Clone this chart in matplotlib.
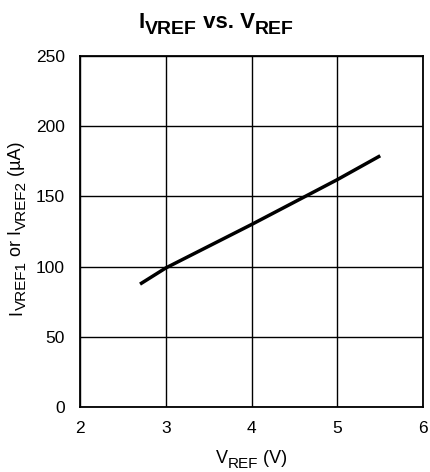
import matplotlib
matplotlib.use("Agg")
import matplotlib.pyplot as plt
from matplotlib.transforms import IdentityTransform

plt.rcParams['font.family'] = ['Liberation Sans', 'DejaVu Sans']

# I_VREF vs V_REF data
vref = [2.7, 3.0, 4.0, 5.0, 5.5]
iref = [87.5, 99, 130, 162, 179]

x_ticks = [2, 3, 4, 5, 6]
y_ticks = [0, 50, 100, 150, 200, 250]


def text_width(fig, r, s, size, weight):
    # measure with padding chars so leading/trailing spaces count
    t1 = fig.text(0, 0, 'x' + s + 'x', fontsize=size, fontweight=weight)
    t2 = fig.text(0, 0, 'xx', fontsize=size, fontweight=weight)
    w = t1.get_window_extent(r).width - t2.get_window_extent(r).width
    t1.remove()
    t2.remove()
    return w


def rich_text(fig, parts, center, base, vertical=False, weight='normal'):
    # parts: (text, fontsize, drop in px)
    r = fig.canvas.get_renderer()
    widths = [text_width(fig, r, s, size, weight) for s, size, drop in parts]
    pos = center - sum(widths) / 2
    for (s, size, drop), w in zip(parts, widths):
        if vertical:
            fig.text(base + drop, pos, s, fontsize=size, fontweight=weight,
                     rotation=90, rotation_mode='anchor', ha='left', va='baseline',
                     transform=IdentityTransform())
        else:
            fig.text(pos, base - drop, s, fontsize=size, fontweight=weight,
                     ha='left', va='baseline', transform=IdentityTransform())
        pos += w


fig = plt.figure(figsize=(4.3, 4.72), dpi=100)
ax = fig.add_axes([0.186, 0.138, 0.798, 0.743])

ax.plot(vref, iref, color='black', linewidth=2.5, solid_capstyle='butt')

ax.set_xlim(2, 6)
ax.set_ylim(0, 250)
ax.set_xticks(x_ticks)
ax.set_yticks(y_ticks)
ax.grid(True, color='black', linewidth=1.0)
ax.set_axisbelow(True)
ax.tick_params(length=0, labelsize=12.5)
ax.tick_params(axis='x', pad=10)
ax.tick_params(axis='y', pad=11)
for s in ax.spines.values():
    s.set_linewidth(1.3)

# labels with big subscripts (pixel coords, origin bottom-left)
rich_text(fig, [('I', 16, 0), ('VREF', 14, 5.5), (' vs. V', 16, 0), ('REF', 14, 5.5)],
          216, 472 - 28, weight='bold')
rich_text(fig, [('V', 13, 0), ('REF', 11, 4.5), (' (V)', 13, 0)],
          251.5, 472 - 463)
rich_text(fig, [('I', 13, 0), ('VREF1', 11, 4.5), (' or I', 13, 0), ('VREF2', 11, 4.5),
                (' (µA)', 13, 0)],
          472 - 228, 21, vertical=True)

fig.savefig('out.png', dpi=100)
